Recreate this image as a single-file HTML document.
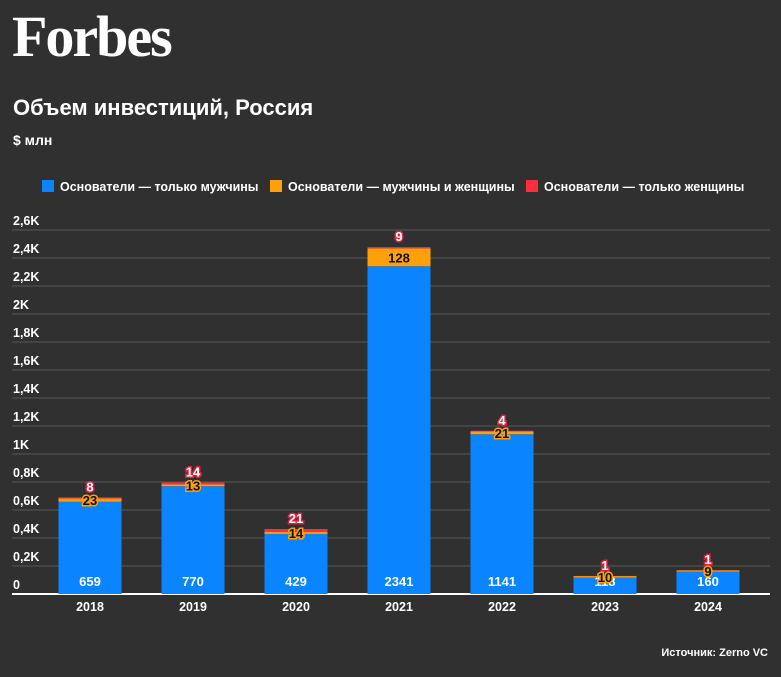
<!DOCTYPE html>
<html><head><meta charset="utf-8"><style>
body{margin:0;width:781px;height:672px;background:#303030;overflow:hidden;font-family:"Liberation Sans",sans-serif;color:#fff}
</style></head><body>
<svg width="781" height="672" xmlns="http://www.w3.org/2000/svg">
<text x="12" y="56" font-family="Liberation Serif,serif" font-weight="bold" font-size="58" fill="#fff" letter-spacing="-2">Forbes</text>
<text x="13" y="115" font-size="22" font-weight="bold" fill="#fff">Объем инвестиций, Россия</text>
<text x="13" y="145" font-size="14" font-weight="bold" fill="#fff">$ млн</text>
<g>
<rect x="42" y="180" width="12" height="12" fill="#0a84ff"/>
<text x="60" y="191" font-size="12.5" font-weight="bold" fill="#fff">Основатели — только мужчины</text>
<rect x="270" y="180" width="12" height="12" fill="#ff9f0a"/>
<text x="288" y="191" font-size="12.5" font-weight="bold" fill="#fff">Основатели — мужчины и женщины</text>
<rect x="526" y="180" width="12" height="12" fill="#ff2d3d"/>
<text x="544" y="191" font-size="12.5" font-weight="bold" fill="#fff">Основатели — только женщины</text>
</g>
<g id="grid"></g><g id="bars"></g><g id="labels"></g>
<text x="768" y="656" font-size="11" font-weight="bold" fill="#fff" text-anchor="end">Источник: Zerno VC</text>
</svg>
<script>
const categories=["2018","2019","2020","2021","2022","2023","2024"];
const menValues=[659,770,429,2341,1141,118,160];
const mixedValues=[23,13,14,128,21,10,9];
const womenValues=[8,14,21,9,4,1,1];
const tickValues=[0,200,400,600,800,1000,1200,1400,1600,1800,2000,2200,2400,2600];
const tickLabels=["0","0,2K","0,4K","0,6K","0,8K","1K","1,2K","1,4K","1,6K","1,8K","2K","2,2K","2,4K","2,6K"];
const NS="http://www.w3.org/2000/svg";
const y=v=>594-v*0.14;
const xc=i=>90+i*103;
const BW=63;
function mk(tag,attrs,parent){const e=document.createElementNS(NS,tag);for(const k in attrs)e.setAttribute(k,attrs[k]);parent.appendChild(e);return e;}
const grid=document.getElementById('grid'),bars=document.getElementById('bars'),labels=document.getElementById('labels');
tickValues.forEach((v,i)=>{
  if(v>0){const l=mk('line',{x1:12,x2:770,y1:y(v),y2:y(v),stroke:'#4a4a4a','stroke-width':1.5},grid);
  
  }
  const t=mk('text',{x:13,y:y(v)-5,'font-size':12.5,'font-weight':'bold',fill:'#fff'},grid);
  t.textContent=tickLabels[i];
  
  
});
const base=mk('line',{x1:12,x2:770,y1:594,y2:594,stroke:'#fff','stroke-width':2},grid);


categories.forEach((c,i)=>{
  const x0=xc(i)-BW/2;
  const m=menValues[i],o=mixedValues[i],w=womenValues[i];
  const b1=mk('rect',{x:x0,y:y(m),width:BW,height:y(0)-y(m),fill:'#0a84ff'},bars);
  
  
  const b2=mk('rect',{x:x0,y:y(m+o),width:BW,height:y(m)-y(m+o),fill:'#ff9f0a'},bars);
  
  
  const b3=mk('rect',{x:x0,y:y(m+o+w),width:BW,height:y(m+o)-y(m+o+w),fill:'#ff2d3d'},bars);
  
  
  const t1=mk('text',{x:xc(i),y:586,'font-size':13,'font-weight':'bold',fill:'#fff','text-anchor':'middle'},labels);
  t1.textContent=m;
  
  
  const oy=(y(m)+y(m+o))/2;
  const t2=mk('text',{x:xc(i),y:oy+5,'font-size':13,'font-weight':'bold',fill:'#111','text-anchor':'middle',stroke:'#ff9f0a','stroke-width':3,'paint-order':'stroke'},labels);
  t2.textContent=o;
  
  
  const t3=mk('text',{x:xc(i),y:y(m+o+w)-6,'font-size':13,'font-weight':'bold',fill:'#fff','text-anchor':'middle',stroke:'#e0203a','stroke-width':3,'paint-order':'stroke'},labels);
  t3.textContent=w;
  
  
  const xl=mk('text',{x:xc(i),y:611,'font-size':12.5,'font-weight':'bold',fill:'#fff','text-anchor':'middle'},labels);
  xl.textContent=c;
  
  
});
</script>
</body></html>
